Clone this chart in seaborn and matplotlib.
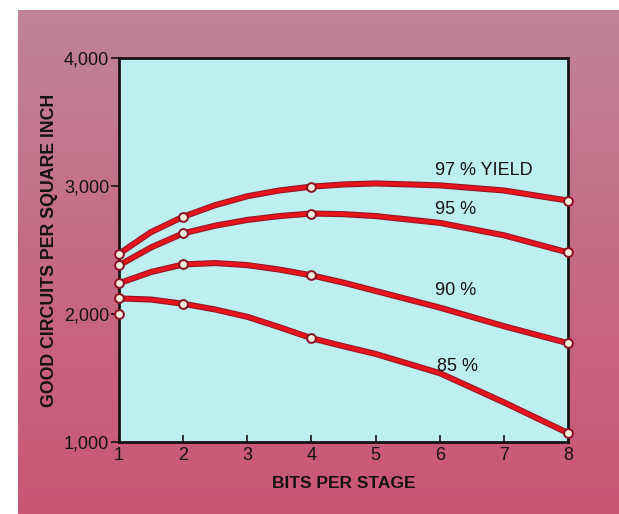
import matplotlib
matplotlib.use("Agg")
import matplotlib.pyplot as plt
import seaborn as sns
import numpy as np
import pandas as pd
from matplotlib.colors import LinearSegmentedColormap

# bits per stage and good circuits per square inch
bits = [1, 1.5, 2, 2.5, 3, 3.5, 4, 4.5, 5, 6, 7, 8]
yield_97 = [2470, 2640, 2760, 2850, 2920, 2965, 2995, 3012, 3020, 3005, 2965, 2886]
yield_95 = [2380, 2520, 2630, 2690, 2735, 2765, 2785, 2780, 2765, 2712, 2615, 2481]
yield_90 = [2240, 2328, 2387, 2398, 2382, 2347, 2302, 2245, 2180, 2050, 1905, 1772]
yield_85 = [2122, 2113, 2080, 2035, 1978, 1897, 1811, 1748, 1688, 1538, 1310, 1070]
marked_bits = [1, 2, 4, 8]
stray_x = [1]
stray_y = [2000]

curve_labels = ["97 % YIELD", "95 %", "90 %", "85 %"]
label_x = [5.92, 5.92, 5.92, 5.95]
label_y = [3120, 2816, 2185, 1592]

x_ticks = [1, 2, 3, 4, 5, 6, 7, 8]
y_ticks = [1000, 2000, 3000, 4000]
y_ticklabels = ["1,000", "2,000", "3,000", "4,000"]

series = {"97": yield_97, "95": yield_95, "90": yield_90, "85": yield_85}
df = pd.concat(
    [pd.DataFrame({"bits": bits, "circuits": v, "yield": k}) for k, v in series.items()],
    ignore_index=True,
)

sns.set_style("ticks")
plt.rcParams["font.family"] = ["Liberation Sans", "DejaVu Sans"]
ink = "#161214"

fig = plt.figure(figsize=(6.19, 5.14), dpi=100, facecolor="white")

# pink printed backdrop, mauve at the top going to crimson at the bottom
bg = fig.add_axes([18 / 619, 0, 1 - 18 / 619, 1 - 10 / 514])
bg.set_zorder(0)
pink = LinearSegmentedColormap.from_list("pink", ["#bf8498", "#c66a84", "#cb5676"])
bg.imshow(np.linspace(0, 1, 256).reshape(-1, 1), aspect="auto", cmap=pink,
          extent=(0, 1, 0, 1), origin="upper")
bg.set_axis_off()

ax = fig.add_axes([119 / 619, 1 - 442 / 514, (568 - 119) / 619, (442 - 58) / 514])
ax.set_zorder(5)
ax.set_facecolor("#bdeff0")

for k in series:
    sub = df[df["yield"] == k]
    # dark halo under the red line, like the printed curve
    sns.lineplot(data=sub, x="bits", y="circuits", ax=ax, color="#9a1424", lw=4.4,
                 legend=False, zorder=2)
    sns.lineplot(data=sub, x="bits", y="circuits", ax=ax, color="#e6141c", lw=2.8,
                 legend=False, zorder=3)
    pts = sub[sub["bits"].isin(marked_bits)]
    sns.scatterplot(data=pts, x="bits", y="circuits", ax=ax, s=40, color="#f2eadb",
                    edgecolor="#8a1020", linewidth=1.4, zorder=5, clip_on=False, legend=False)
sns.scatterplot(x=stray_x, y=stray_y, ax=ax, s=40, color="#f2eadb", edgecolor="#8a1020",
                linewidth=1.4, zorder=5, clip_on=False, legend=False)

for t, lx, ly in zip(curve_labels, label_x, label_y):
    ax.text(lx, ly, t, fontsize=13, color=ink, va="center", ha="left")

ax.set_xlim(1, 8)
ax.set_ylim(1000, 4000)
ax.set_xticks(x_ticks)
ax.set_yticks(y_ticks)
ax.set_yticklabels(y_ticklabels)
ax.tick_params(axis="x", direction="in", length=5, width=1.2, labelsize=13, colors=ink)
ax.tick_params(axis="y", direction="out", length=6, width=1.2, labelsize=13, pad=1, colors=ink)
for s in ax.spines.values():
    s.set_linewidth(2)
    s.set_color(ink)
    s.set_visible(True)

ax.set_xlabel("BITS PER STAGE", fontsize=12.5, fontweight="bold", labelpad=9, color=ink)
ax.set_ylabel("GOOD CIRCUITS PER SQUARE INCH", fontsize=12.8, fontweight="bold", labelpad=4,
              color=ink)

fig.savefig("out.png", dpi=100, facecolor=fig.get_facecolor())
